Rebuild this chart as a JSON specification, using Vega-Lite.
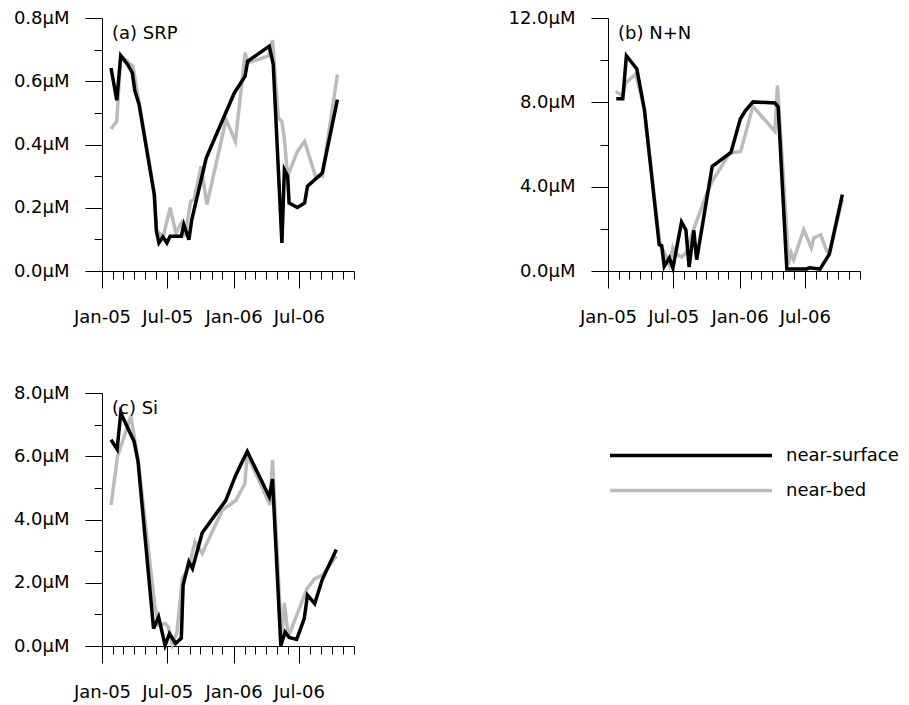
{
  "$schema": "https://vega.github.io/schema/vega-lite/v6.json",
  "padding": {"left": 13, "top": 9, "right": 5, "bottom": 5},
  "config": {
    "view": {"stroke": null},
    "font": "DejaVu Sans",
    "axis": {"labelFont": "DejaVu Sans", "labelFontSize": 18, "labelColor": "black", "domainColor": "black", "tickColor": "black", "domainWidth": 1, "tickWidth": 1, "grid": false},
    "line": {"strokeWidth": 3.5}
  },
  "datasets": {
    "srp": [
      {"series": "near-bed", "date": "2005-01-26", "value": 0.449},
      {"series": "near-bed", "date": "2005-02-11", "value": 0.473},
      {"series": "near-bed", "date": "2005-02-22", "value": 0.681},
      {"series": "near-bed", "date": "2005-03-28", "value": 0.647},
      {"series": "near-bed", "date": "2005-04-14", "value": 0.53},
      {"series": "near-bed", "date": "2005-05-26", "value": 0.25},
      {"series": "near-bed", "date": "2005-06-01", "value": 0.13},
      {"series": "near-bed", "date": "2005-06-19", "value": 0.105},
      {"series": "near-bed", "date": "2005-07-09", "value": 0.2},
      {"series": "near-bed", "date": "2005-07-25", "value": 0.12},
      {"series": "near-bed", "date": "2005-08-09", "value": 0.152},
      {"series": "near-bed", "date": "2005-08-19", "value": 0.11},
      {"series": "near-bed", "date": "2005-09-04", "value": 0.22},
      {"series": "near-bed", "date": "2005-09-13", "value": 0.226},
      {"series": "near-bed", "date": "2005-10-03", "value": 0.331},
      {"series": "near-bed", "date": "2005-10-19", "value": 0.21},
      {"series": "near-bed", "date": "2005-12-11", "value": 0.479},
      {"series": "near-bed", "date": "2006-01-06", "value": 0.41},
      {"series": "near-bed", "date": "2006-02-02", "value": 0.69},
      {"series": "near-bed", "date": "2006-02-09", "value": 0.658},
      {"series": "near-bed", "date": "2006-04-08", "value": 0.68},
      {"series": "near-bed", "date": "2006-04-19", "value": 0.73},
      {"series": "near-bed", "date": "2006-05-05", "value": 0.484},
      {"series": "near-bed", "date": "2006-05-15", "value": 0.473},
      {"series": "near-bed", "date": "2006-05-22", "value": 0.415},
      {"series": "near-bed", "date": "2006-05-31", "value": 0.3},
      {"series": "near-bed", "date": "2006-06-27", "value": 0.378},
      {"series": "near-bed", "date": "2006-07-17", "value": 0.41},
      {"series": "near-bed", "date": "2006-08-16", "value": 0.3},
      {"series": "near-bed", "date": "2006-09-04", "value": 0.3},
      {"series": "near-bed", "date": "2006-10-16", "value": 0.621},
      {"series": "near-surface", "date": "2005-01-26", "value": 0.642},
      {"series": "near-surface", "date": "2005-02-11", "value": 0.54},
      {"series": "near-surface", "date": "2005-02-22", "value": 0.681},
      {"series": "near-surface", "date": "2005-03-13", "value": 0.653},
      {"series": "near-surface", "date": "2005-03-26", "value": 0.627},
      {"series": "near-surface", "date": "2005-04-02", "value": 0.57},
      {"series": "near-surface", "date": "2005-04-14", "value": 0.526},
      {"series": "near-surface", "date": "2005-05-26", "value": 0.241},
      {"series": "near-surface", "date": "2005-06-01", "value": 0.125},
      {"series": "near-surface", "date": "2005-06-08", "value": 0.089},
      {"series": "near-surface", "date": "2005-06-19", "value": 0.108},
      {"series": "near-surface", "date": "2005-06-30", "value": 0.089},
      {"series": "near-surface", "date": "2005-07-09", "value": 0.11},
      {"series": "near-surface", "date": "2005-08-09", "value": 0.11},
      {"series": "near-surface", "date": "2005-08-16", "value": 0.147},
      {"series": "near-surface", "date": "2005-08-30", "value": 0.099},
      {"series": "near-surface", "date": "2005-09-07", "value": 0.162},
      {"series": "near-surface", "date": "2005-10-17", "value": 0.357},
      {"series": "near-surface", "date": "2006-01-03", "value": 0.563},
      {"series": "near-surface", "date": "2006-02-02", "value": 0.616},
      {"series": "near-surface", "date": "2006-02-09", "value": 0.663},
      {"series": "near-surface", "date": "2006-04-10", "value": 0.711},
      {"series": "near-surface", "date": "2006-04-21", "value": 0.653},
      {"series": "near-surface", "date": "2006-05-15", "value": 0.089},
      {"series": "near-surface", "date": "2006-05-22", "value": 0.32},
      {"series": "near-surface", "date": "2006-05-31", "value": 0.3},
      {"series": "near-surface", "date": "2006-06-04", "value": 0.215},
      {"series": "near-surface", "date": "2006-06-27", "value": 0.201},
      {"series": "near-surface", "date": "2006-07-17", "value": 0.215},
      {"series": "near-surface", "date": "2006-07-25", "value": 0.268},
      {"series": "near-surface", "date": "2006-09-04", "value": 0.31},
      {"series": "near-surface", "date": "2006-10-16", "value": 0.542}
    ],
    "nn": [
      {"series": "near-bed", "date": "2005-01-22", "value": 8.52},
      {"series": "near-bed", "date": "2005-02-11", "value": 8.31},
      {"series": "near-bed", "date": "2005-02-19", "value": 8.92},
      {"series": "near-bed", "date": "2005-03-19", "value": 9.34},
      {"series": "near-bed", "date": "2005-04-12", "value": 7.65},
      {"series": "near-bed", "date": "2005-05-25", "value": 1.25},
      {"series": "near-bed", "date": "2005-06-06", "value": 0.9},
      {"series": "near-bed", "date": "2005-06-20", "value": 0.3},
      {"series": "near-bed", "date": "2005-06-30", "value": 1.1},
      {"series": "near-bed", "date": "2005-07-10", "value": 0.8},
      {"series": "near-bed", "date": "2005-07-24", "value": 0.66},
      {"series": "near-bed", "date": "2005-08-05", "value": 0.85},
      {"series": "near-bed", "date": "2005-08-14", "value": 1.3},
      {"series": "near-bed", "date": "2005-08-27", "value": 2.0},
      {"series": "near-bed", "date": "2005-10-01", "value": 3.62},
      {"series": "near-bed", "date": "2005-10-17", "value": 4.25},
      {"series": "near-bed", "date": "2005-12-05", "value": 5.6},
      {"series": "near-bed", "date": "2006-01-04", "value": 5.67},
      {"series": "near-bed", "date": "2006-02-07", "value": 7.81},
      {"series": "near-bed", "date": "2006-04-09", "value": 6.62},
      {"series": "near-bed", "date": "2006-04-16", "value": 8.8},
      {"series": "near-bed", "date": "2006-05-12", "value": 1.9},
      {"series": "near-bed", "date": "2006-05-16", "value": 0.3},
      {"series": "near-bed", "date": "2006-05-24", "value": 0.85},
      {"series": "near-bed", "date": "2006-05-31", "value": 0.54},
      {"series": "near-bed", "date": "2006-06-28", "value": 1.96},
      {"series": "near-bed", "date": "2006-07-19", "value": 1.09},
      {"series": "near-bed", "date": "2006-07-26", "value": 1.57},
      {"series": "near-bed", "date": "2006-08-14", "value": 1.72},
      {"series": "near-bed", "date": "2006-08-31", "value": 0.93},
      {"series": "near-bed", "date": "2006-09-07", "value": 0.85},
      {"series": "near-bed", "date": "2006-10-13", "value": 3.4},
      {"series": "near-surface", "date": "2005-01-24", "value": 8.17},
      {"series": "near-surface", "date": "2005-02-11", "value": 8.17},
      {"series": "near-surface", "date": "2005-02-21", "value": 10.21},
      {"series": "near-surface", "date": "2005-03-22", "value": 9.58},
      {"series": "near-surface", "date": "2005-04-12", "value": 7.65},
      {"series": "near-surface", "date": "2005-05-23", "value": 1.25},
      {"series": "near-surface", "date": "2005-05-30", "value": 1.2},
      {"series": "near-surface", "date": "2005-06-06", "value": 0.22},
      {"series": "near-surface", "date": "2005-06-20", "value": 0.62},
      {"series": "near-surface", "date": "2005-06-30", "value": 0.14},
      {"series": "near-surface", "date": "2005-07-24", "value": 2.32},
      {"series": "near-surface", "date": "2005-08-05", "value": 1.96},
      {"series": "near-surface", "date": "2005-08-14", "value": 0.19},
      {"series": "near-surface", "date": "2005-08-27", "value": 1.93},
      {"series": "near-surface", "date": "2005-09-04", "value": 0.54},
      {"series": "near-surface", "date": "2005-10-17", "value": 4.96},
      {"series": "near-surface", "date": "2005-12-08", "value": 5.62},
      {"series": "near-surface", "date": "2006-01-03", "value": 7.21},
      {"series": "near-surface", "date": "2006-01-17", "value": 7.6},
      {"series": "near-surface", "date": "2006-02-07", "value": 8.02},
      {"series": "near-surface", "date": "2006-04-09", "value": 7.97},
      {"series": "near-surface", "date": "2006-04-18", "value": 7.78},
      {"series": "near-surface", "date": "2006-05-12", "value": 0.09},
      {"series": "near-surface", "date": "2006-07-06", "value": 0.1},
      {"series": "near-surface", "date": "2006-07-14", "value": 0.15},
      {"series": "near-surface", "date": "2006-08-12", "value": 0.09},
      {"series": "near-surface", "date": "2006-09-07", "value": 0.8},
      {"series": "near-surface", "date": "2006-10-13", "value": 3.62}
    ],
    "si": [
      {"series": "near-bed", "date": "2005-01-26", "value": 4.46},
      {"series": "near-bed", "date": "2005-02-13", "value": 5.99},
      {"series": "near-bed", "date": "2005-03-22", "value": 7.26},
      {"series": "near-bed", "date": "2005-04-11", "value": 5.9},
      {"series": "near-bed", "date": "2005-05-28", "value": 1.24},
      {"series": "near-bed", "date": "2005-06-07", "value": 0.66},
      {"series": "near-bed", "date": "2005-06-25", "value": 0.71},
      {"series": "near-bed", "date": "2005-07-04", "value": 0.6},
      {"series": "near-bed", "date": "2005-07-15", "value": 0.05},
      {"series": "near-bed", "date": "2005-07-28", "value": 0.44},
      {"series": "near-bed", "date": "2005-08-12", "value": 2.14},
      {"series": "near-bed", "date": "2005-08-30", "value": 2.5},
      {"series": "near-bed", "date": "2005-09-16", "value": 3.3},
      {"series": "near-bed", "date": "2005-10-06", "value": 2.93},
      {"series": "near-bed", "date": "2005-12-01", "value": 4.3},
      {"series": "near-bed", "date": "2006-01-07", "value": 4.6},
      {"series": "near-bed", "date": "2006-02-01", "value": 5.12},
      {"series": "near-bed", "date": "2006-02-08", "value": 6.05},
      {"series": "near-bed", "date": "2006-04-12", "value": 4.46},
      {"series": "near-bed", "date": "2006-04-19", "value": 5.89},
      {"series": "near-bed", "date": "2006-05-14", "value": 0.2},
      {"series": "near-bed", "date": "2006-05-22", "value": 1.36},
      {"series": "near-bed", "date": "2006-06-02", "value": 0.29},
      {"series": "near-bed", "date": "2006-07-23", "value": 1.8},
      {"series": "near-bed", "date": "2006-08-14", "value": 2.13},
      {"series": "near-bed", "date": "2006-09-04", "value": 2.23},
      {"series": "near-bed", "date": "2006-10-13", "value": 2.85},
      {"series": "near-surface", "date": "2005-01-26", "value": 6.52},
      {"series": "near-surface", "date": "2005-02-12", "value": 6.22},
      {"series": "near-surface", "date": "2005-02-22", "value": 7.37},
      {"series": "near-surface", "date": "2005-03-31", "value": 6.47},
      {"series": "near-surface", "date": "2005-04-11", "value": 5.83},
      {"series": "near-surface", "date": "2005-05-24", "value": 0.55},
      {"series": "near-surface", "date": "2005-06-07", "value": 0.92},
      {"series": "near-surface", "date": "2005-06-25", "value": 0.02},
      {"series": "near-surface", "date": "2005-07-07", "value": 0.39},
      {"series": "near-surface", "date": "2005-07-24", "value": 0.08},
      {"series": "near-surface", "date": "2005-08-09", "value": 0.25},
      {"series": "near-surface", "date": "2005-08-14", "value": 1.92},
      {"series": "near-surface", "date": "2005-08-30", "value": 2.66},
      {"series": "near-surface", "date": "2005-09-09", "value": 2.45},
      {"series": "near-surface", "date": "2005-10-06", "value": 3.58},
      {"series": "near-surface", "date": "2005-12-10", "value": 4.6},
      {"series": "near-surface", "date": "2006-01-07", "value": 5.4},
      {"series": "near-surface", "date": "2006-01-25", "value": 5.83},
      {"series": "near-surface", "date": "2006-02-08", "value": 6.15},
      {"series": "near-surface", "date": "2006-04-10", "value": 4.72},
      {"series": "near-surface", "date": "2006-04-19", "value": 5.28},
      {"series": "near-surface", "date": "2006-05-12", "value": 0.01},
      {"series": "near-surface", "date": "2006-05-24", "value": 0.44},
      {"series": "near-surface", "date": "2006-06-04", "value": 0.27},
      {"series": "near-surface", "date": "2006-06-25", "value": 0.21},
      {"series": "near-surface", "date": "2006-07-16", "value": 0.87},
      {"series": "near-surface", "date": "2006-07-25", "value": 1.61},
      {"series": "near-surface", "date": "2006-08-14", "value": 1.34},
      {"series": "near-surface", "date": "2006-09-04", "value": 2.1},
      {"series": "near-surface", "date": "2006-10-13", "value": 3.05}
    ]
  },
  "bounds": "flush",
  "columns": 2,
  "spacing": {"row": 122, "column": 254},
  "concat": [
    {
      "width": 252, "height": 253,
      "title": {"text": "(a) SRP", "anchor": "start", "frame": "group", "orient": "top", "offset": -47.5, "dx": 10, "baseline": "alphabetic", "fontSize": 18, "fontWeight": "normal", "font": "DejaVu Sans", "color": "black"},
      "data": {"name": "srp"},
      "mark": {"type": "line", "strokeWidth": 3.5},
      "encoding": {
        "x": {"field": "date", "type": "temporal",
          "scale": {"type": "utc", "domain": [{"year": 2005, "month": 1, "date": 1, "utc": true}, {"year": 2006, "month": 12, "date": 1, "utc": true}]},
          "axis": {"title": null, "tickCount": {"interval": "month", "step": 1}, "tickSize": {"condition": {"test": "utcmonth(datum.value) % 6 === 0", "value": 17}, "value": 8}, "labelExpr": "utcmonth(datum.value) % 6 === 0 ? utcFormat(datum.value, '%b-%y') : ''", "labelPadding": 20, "labelFlush": false, "labelOverlap": false}},
        "y": {"field": "value", "type": "quantitative",
          "scale": {"domain": [0, 0.8], "nice": false},
          "axis": {"title": null, "values": [0, 0.1, 0.2, 0.3, 0.4, 0.5, 0.6, 0.7, 0.8], "tickSize": {"condition": {"test": "round(datum.value*10) % 2 === 0", "value": 17}, "value": 8}, "labelExpr": "round(datum.value*10) % 2 === 0 ? format(datum.value, '.1f') + 'μM' : ''", "labelPadding": 16}},
        "color": {"field": "series", "type": "nominal",
          "scale": {"domain": ["near-surface", "near-bed"], "range": ["black", "#bbbbbb"]},
          "legend": {"orient": "none", "legendX": 506, "legendY": 420, "title": null, "symbolType": "stroke", "symbolSize": 26244, "symbolStrokeWidth": 3.5, "clipHeight": 35, "rowPadding": 0, "labelOffset": 12, "labelFontSize": 18, "labelFont": "DejaVu Sans", "labelColor": "black", "padding": 0, "direction": "vertical"}}
      }
    },
    {
      "width": 252, "height": 253,
      "title": {"text": "(b) N+N", "anchor": "start", "frame": "group", "orient": "top", "offset": -47.5, "dx": 10, "baseline": "alphabetic", "fontSize": 18, "fontWeight": "normal", "font": "DejaVu Sans", "color": "black"},
      "data": {"name": "nn"},
      "mark": {"type": "line", "strokeWidth": 3.5},
      "encoding": {
        "x": {"field": "date", "type": "temporal",
          "scale": {"type": "utc", "domain": [{"year": 2005, "month": 1, "date": 1, "utc": true}, {"year": 2006, "month": 12, "date": 1, "utc": true}]},
          "axis": {"title": null, "tickCount": {"interval": "month", "step": 1}, "tickSize": {"condition": {"test": "utcmonth(datum.value) % 6 === 0", "value": 17}, "value": 8}, "labelExpr": "utcmonth(datum.value) % 6 === 0 ? utcFormat(datum.value, '%b-%y') : ''", "labelPadding": 20, "labelFlush": false, "labelOverlap": false}},
        "y": {"field": "value", "type": "quantitative",
          "scale": {"domain": [0, 12], "nice": false},
          "axis": {"title": null, "values": [0, 2, 4, 6, 8, 10, 12], "tickSize": {"condition": {"test": "datum.value % 4 === 0", "value": 17}, "value": 8}, "labelExpr": "datum.value % 4 === 0 ? format(datum.value, '.1f') + 'μM' : ''", "labelPadding": 16}},
        "color": {"field": "series", "type": "nominal",
          "scale": {"domain": ["near-surface", "near-bed"], "range": ["black", "#bbbbbb"]},
          "legend": {"orient": "none", "legendX": 506, "legendY": 420, "title": null, "symbolType": "stroke", "symbolSize": 26244, "symbolStrokeWidth": 3.5, "clipHeight": 35, "rowPadding": 0, "labelOffset": 12, "labelFontSize": 18, "labelFont": "DejaVu Sans", "labelColor": "black", "padding": 0, "direction": "vertical"}}
      }
    },
    {
      "width": 252, "height": 253,
      "title": {"text": "(c) Si", "anchor": "start", "frame": "group", "orient": "top", "offset": -47.5, "dx": 10, "baseline": "alphabetic", "fontSize": 18, "fontWeight": "normal", "font": "DejaVu Sans", "color": "black"},
      "data": {"name": "si"},
      "mark": {"type": "line", "strokeWidth": 3.5},
      "encoding": {
        "x": {"field": "date", "type": "temporal",
          "scale": {"type": "utc", "domain": [{"year": 2005, "month": 1, "date": 1, "utc": true}, {"year": 2006, "month": 12, "date": 1, "utc": true}]},
          "axis": {"title": null, "tickCount": {"interval": "month", "step": 1}, "tickSize": {"condition": {"test": "utcmonth(datum.value) % 6 === 0", "value": 17}, "value": 8}, "labelExpr": "utcmonth(datum.value) % 6 === 0 ? utcFormat(datum.value, '%b-%y') : ''", "labelPadding": 20, "labelFlush": false, "labelOverlap": false}},
        "y": {"field": "value", "type": "quantitative",
          "scale": {"domain": [0, 8], "nice": false},
          "axis": {"title": null, "values": [0, 1, 2, 3, 4, 5, 6, 7, 8], "tickSize": {"condition": {"test": "datum.value % 2 === 0", "value": 17}, "value": 8}, "labelExpr": "datum.value % 2 === 0 ? format(datum.value, '.1f') + 'μM' : ''", "labelPadding": 16}},
        "color": {"field": "series", "type": "nominal",
          "scale": {"domain": ["near-surface", "near-bed"], "range": ["black", "#bbbbbb"]},
          "legend": {"orient": "none", "legendX": 506, "legendY": 420, "title": null, "symbolType": "stroke", "symbolSize": 26244, "symbolStrokeWidth": 3.5, "clipHeight": 35, "rowPadding": 0, "labelOffset": 12, "labelFontSize": 18, "labelFont": "DejaVu Sans", "labelColor": "black", "padding": 0, "direction": "vertical"}}
      }
    }
  ]
}
